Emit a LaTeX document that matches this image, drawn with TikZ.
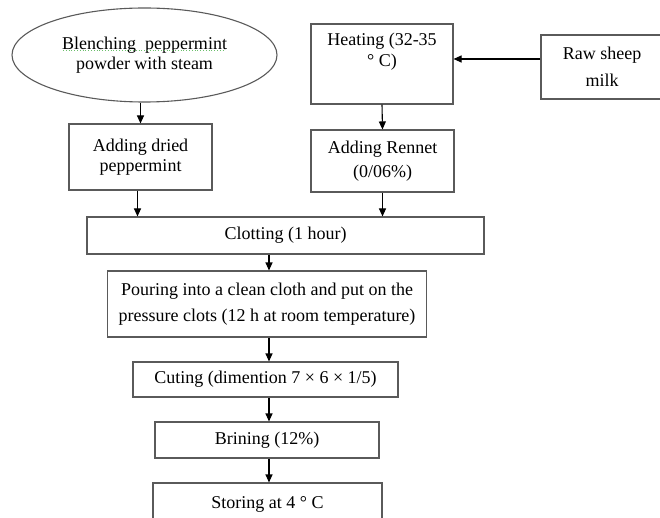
\documentclass[tikz,border=0pt]{standalone}
\usepackage{fontspec}
\setmainfont{Liberation Serif}
\usetikzlibrary{arrows.meta,shapes.geometric}
\definecolor{boxgray}{HTML}{5A5A5A}
\definecolor{spellgreen}{HTML}{6CBF6C}
\begin{document}
\begin{tikzpicture}[x=1pt,y=-1pt,
    font=\fontsize{18}{20.5}\selectfont,
    stepbox/.style={draw=boxgray,line width=1.1pt,rectangle,align=center,inner sep=2pt},
    flow/.style={draw=black,line width=1.1pt,-{Triangle[length=8pt,width=7pt]}}]
  \useasboundingbox (0,0) rectangle (660,518);
  % left branch
  \node[stepbox,ellipse,minimum width=265pt,minimum height=94pt] (blench) at (144.5,55)
    {Blenching\ \ peppermint\\powder with steam};
  \draw[spellgreen,dotted,line width=0.8pt] (63,50) -- (225,50);
  \node[stepbox,minimum width=143pt,minimum height=66pt] (dried) at (140.5,157)
    {Adding dried\\peppermint};
  % right branch
  \node[stepbox,minimum width=142pt,minimum height=80pt] (heat) at (382,64)
    {Heating (32-35\\[1pt]° C)\\[2pt]\strut};
  \node[stepbox,minimum width=122pt,minimum height=64pt] (raw) at (602,67)
    {Raw sheep\\[6pt]milk};
  \node[stepbox,minimum width=143pt,minimum height=62pt] (rennet) at (382.5,161)
    {Adding Rennet\\[3pt](0/06\%)};
  % main line
  \node[stepbox,minimum width=397pt,minimum height=37pt] (clot) at (285.5,235.5)
    {Clotting (1 hour)};
  \node[stepbox,minimum width=319pt,minimum height=66pt] (pour) at (267,304)
    {Pouring into a clean cloth and put on the\\[6pt]pressure clots (12 h at room temperature)};
  \node[stepbox,minimum width=265pt,minimum height=35pt] (cut) at (265.5,379.5)
    {Cuting (dimention 7 × 6 × 1/5)};
  \node[stepbox,minimum width=224pt,minimum height=36pt] (brine) at (267,440)
    {Brining (12\%)};
  \node[stepbox,minimum width=229pt,minimum height=42pt] (store) at (267.5,504)
    {Storing at 4 ° C};
  % arrows
  \draw[flow] (dried.north |- blench.south) -- (dried.north);
  \draw[flow] ([yshift=8pt]raw.west) -- ([yshift=5pt]heat.east);
  \draw[flow] (heat.south) -- (rennet.north);
  \draw[flow] ([xshift=-3pt]dried.south) -- ([xshift=-3pt]dried.south |- clot.north);
  \draw[flow] (rennet.south) -- (rennet.south |- clot.north);
  \draw[flow] ([xshift=2pt]pour.north |- clot.south) -- ([xshift=2pt]pour.north);
  \draw[flow] ([xshift=2pt]pour.south) -- ([xshift=2pt]pour.south |- cut.north);
  \draw[flow] ([xshift=2pt]pour.south |- cut.south) -- ([xshift=2pt]pour.south |- brine.north);
  \draw[flow] ([xshift=2pt]pour.south |- brine.south) -- ([xshift=2pt]pour.south |- store.north);
\end{tikzpicture}
\end{document}
